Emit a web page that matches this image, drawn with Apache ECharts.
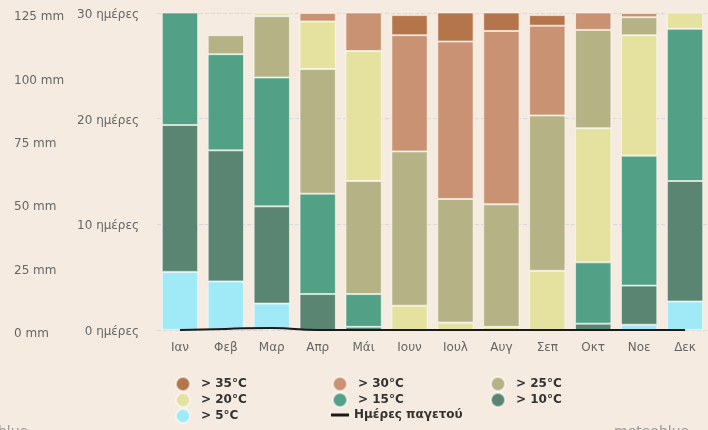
<!DOCTYPE html>
<html>
<head>
<meta charset="utf-8">
<script src="https://cdn.jsdelivr.net/npm/echarts@6/dist/echarts.min.js"></script>
<style>
html,body{margin:0;padding:0;background:#f5ebe1;}
#c{width:708px;height:430px;}
</style>
</head>
<body>
<div id="c"></div>
<script>
var months = ['Ιαν','Φεβ','Μαρ','Απρ','Μάι','Ιουν','Ιουλ','Αυγ','Σεπ','Οκτ','Νοε','Δεκ'];
var over5  = [5.5, 4.6, 2.5, 0,   0,    0,    0,    0,    0,    0,    0.5, 2.7];
var over10 = [13.9,12.4,9.2, 3.4, 0.3,  0,    0,    0,    0,    0.6,  3.7, 11.4];
var over15 = [11.6,9.1, 12.2,9.5, 3.1,  0,    0,    0,    0,    5.8,  12.3,14.4];
var over20Late  = [0,0,0,0,0, 2.3, 0.7, 0.3, 5.6, 12.7, 11.4, 2.5];
var over25 = [0,   1.8, 5.8, 11.8,10.7, 14.6, 11.7, 11.6, 14.7, 9.3, 1.7, 0];
var over20Early = [0,0,1.3,4.5,12.3, 0,0,0,0,0,0,0];
var over30 = [0,   0,   0,   0.8, 4.6,  11.0, 14.9, 16.4, 8.5,  2.6,  0.4, 0];
var over35 = [0,   0,   0,   0,   0,    1.9,  3.7,  2.7,  1.0,  0,    0,   0];
var frostDays = [0, 0.1, 0.2, 0, 0, 0, 0, 0, 0, 0, 0, 0];
var dayTicks = [0, 10, 20, 30];
var mmTicks = [0, 25, 50, 75, 100, 125];

var COLORS = {
  o35:'#b5754b', o30:'#c99373', o25:'#b5b385', o20:'#e4e29e',
  o15:'#52a086', o10:'#5a8572', o5:'#a0e9f6'
};
var FONT = 'DejaVu Sans';

function clean(arr){ return arr.map(function(v){ return v === 0 ? '-' : v; }); }
function barSeries(name, data, color){
  return {
    name: name, type: 'bar', stack: 'days', data: clean(data),
    barCategoryGap: '21%',
    itemStyle: { color: color, borderColor: 'rgba(255,255,255,0.55)', borderWidth: 1 },
    emphasis: { disabled: true }
  };
}

var chart = echarts.init(document.getElementById('c'), null, {renderer:'canvas'});
var legendText = { color:'#333', fontFamily: FONT, fontWeight:'bold', fontSize: 12, lineHeight: 14, padding:[0,0,0,6] };
var legendCommon = { orient:'vertical', top: 376, height: 60, padding: 0, itemWidth: 14, itemHeight: 14, itemGap: 0, textStyle: legendText };

chart.setOption({
  backgroundColor: '#f5ebe1',
  animation: false,
  grid: { left: 157, right: -9, top: 13, bottom: 100 },
  legend: [
    Object.assign({}, legendCommon, { left: 175, data: [
      {name:'> 35°C', icon:'circle'}, {name:'> 20°C', icon:'circle'}, {name:'> 5°C', icon:'circle'} ] }),
    Object.assign({}, legendCommon, { left: 332, data: [
      {name:'> 30°C', icon:'circle'}, {name:'> 15°C', icon:'circle'} ] }),
    Object.assign({}, legendCommon, { left: 331, top: 408, height: 20, itemWidth: 18, itemHeight: 3,
      textStyle: Object.assign({}, legendText, {padding:[0,0,0,0]}),
      data: [ {name:'Ημέρες παγετού', icon:'rect'} ] }),
    Object.assign({}, legendCommon, { left: 490, data: [
      {name:'> 25°C', icon:'circle'}, {name:'> 10°C', icon:'circle'} ] })
  ],
  xAxis: {
    type: 'category', data: months,
    axisLine: { show: false }, axisTick: { show: false },
    axisLabel: { color:'#666', fontFamily: FONT, fontSize: 12, margin: 12 }
  },
  yAxis: [
    {
      type: 'value', min: dayTicks[0], max: dayTicks[dayTicks.length-1], interval: 10,
      axisLine: { show: false }, axisTick: { show: false },
      axisLabel: { color:'#666', fontFamily: FONT, fontSize: 12, margin: 18, verticalAlign: 'top', lineHeight: 4,
        formatter: function(v){ return v + ' ημέρες'; } },
      splitLine: { show: true, lineStyle: { color:'rgba(170,180,195,0.35)', type:'dashed', width: 1 } }
    },
    {
      type: 'value', position: 'left', min: mmTicks[0], max: mmTicks[mmTicks.length-1], interval: 25,
      axisLine: { show: false }, axisTick: { show: false }, splitLine: { show: false },
      axisLabel: { color:'#666', fontFamily: FONT, fontSize: 12, align: 'left', margin: 143, verticalAlign: 'top', lineHeight: 8,
        formatter: function(v){ return v + ' mm'; } }
    }
  ],
  series: [
    barSeries('> 5°C', over5, COLORS.o5),
    barSeries('> 10°C', over10, COLORS.o10),
    barSeries('> 15°C', over15, COLORS.o15),
    barSeries('> 20°C', over20Late, COLORS.o20),
    barSeries('> 25°C', over25, COLORS.o25),
    barSeries('> 20°C', over20Early, COLORS.o20),
    barSeries('> 30°C', over30, COLORS.o30),
    barSeries('> 35°C', over35, COLORS.o35),
    {
      name: 'Ημέρες παγετού', type: 'line', data: frostDays, smooth: true,
      symbol: 'none', z: 5,
      lineStyle: { color: '#1a1a1a', width: 2 }, itemStyle: { color:'#1a1a1a' },
      emphasis: { disabled: true }
    }
  ],
  graphic: [
    { type:'text', left: -47, top: 425, style: { text:'meteoblue', fill:'#9a9a9a', font:'14px ' + FONT } },
    { type:'text', left: 614, top: 425, style: { text:'meteoblue', fill:'#9a9a9a', font:'14px ' + FONT } }
  ]
});
</script>
</body>
</html>
